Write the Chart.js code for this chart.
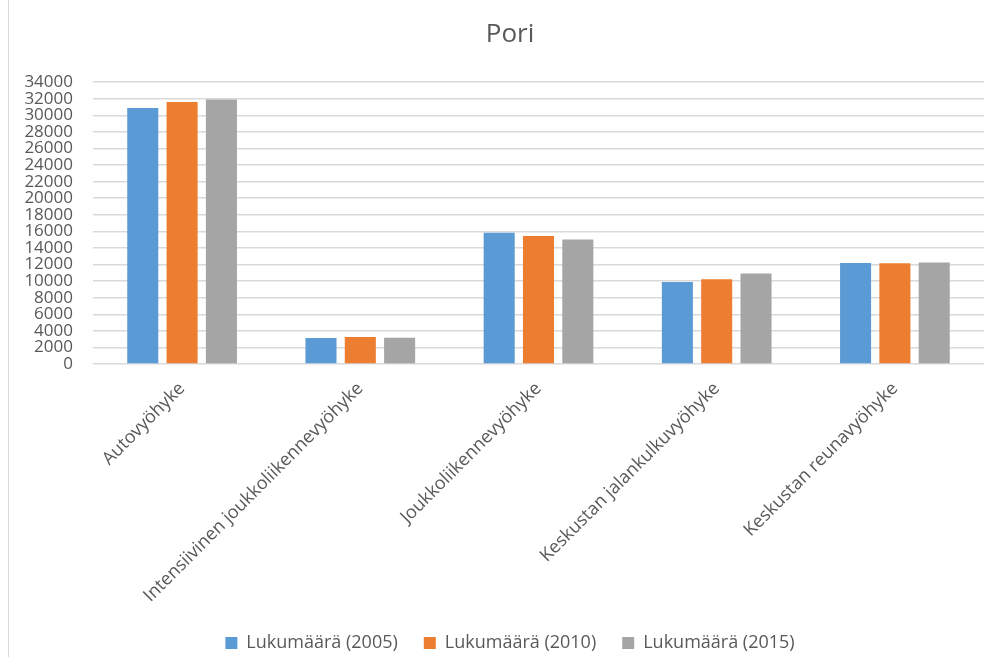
<!DOCTYPE html>
<html>
<head>
<meta charset="utf-8">
<script src="https://cdn.jsdelivr.net/npm/chart.js@4.4.1/dist/chart.umd.min.js"></script>
<style>
  html, body { margin: 0; padding: 0; background: #ffffff; overflow: hidden; }
  #wrap { position: relative; width: 994px; height: 657px; overflow: hidden; }
  #frame { position: absolute; left: 8px; top: 0; height: 100%; border-left: 1px solid #d9d9d9; }
  canvas { position: absolute; left: 0; top: 0; }
</style>
</head>
<body>
<div id="wrap">
  <canvas id="c" width="1020" height="662"></canvas>
  <div id="frame"></div>
</div>
<script>
const categories = [
  "Autovyöhyke",
  "Intensiivinen joukkoliikennevyöhyke",
  "Joukkoliikennevyöhyke",
  "Keskustan jalankulkuvyöhyke",
  "Keskustan reunavyöhyke"
];
const seriesNames = ["Lukumäärä (2005)", "Lukumäärä (2010)", "Lukumäärä (2015)"];
const values2005 = [30900, 3150, 15850, 9880, 12200];
const values2010 = [31600, 3250, 15430, 10240, 12160];
const values2015 = [31900, 3180, 15030, 10930, 12240];
const yMin = 0, yMax = 34000, yStep = 2000;

const colors = ["#5b9bd5", "#ed7d31", "#a5a5a5"];
const textColor = "#595959";
const FONT = "'Open Sans', 'Noto Sans', sans-serif";

new Chart(document.getElementById("c"), {
  type: "bar",
  data: {
    labels: categories,
    datasets: [values2005, values2010, values2015].map((v, i) => ({
      label: seriesNames[i],
      data: v,
      backgroundColor: colors[i],
      borderWidth: 0,
      categoryPercentage: 0.662,
      barPercentage: 0.79
    }))
  },
  options: {
    responsive: false,
    animation: false,
    devicePixelRatio: 1,
    layout: { padding: { left: 0, right: 0, top: 0, bottom: 0 } },
    plugins: {
      title: {
        display: true,
        text: "Pori",
        color: textColor,
        font: { family: FONT, size: 26, weight: "normal" },
        padding: { top: 19, bottom: 32 }
      },
      legend: {
        display: true,
        position: "bottom",
        labels: {
          color: textColor,
          font: { family: FONT, size: 18 },
          boxWidth: 12,
          boxHeight: 12,
          padding: 26
        }
      },
      tooltip: { enabled: false }
    },
    scales: {
      x: {
        grid: { display: false, drawTicks: false },
        border: { display: false },
        ticks: {
          color: textColor,
          font: { family: FONT, size: 18 },
          minRotation: 45,
          maxRotation: 45,
          autoSkip: false,
          padding: 14
        },
        afterFit(scale) { scale.height = 244; }
      },
      y: {
        position: "left",
        min: yMin,
        max: yMax,
        grid: { color: "#d9d9d9", lineWidth: 1.5, drawTicks: false },
        border: { display: false },
        ticks: {
          stepSize: yStep,
          autoSkip: false,
          color: textColor,
          font: { family: FONT, size: 17 },
          padding: 20,
          callback: (v) => String(v)
        },
        afterFit(scale) { scale.width = 93; }
      },
      yRight: {
        position: "right",
        display: true,
        min: yMin,
        max: yMax,
        grid: { display: false, drawTicks: false },
        border: { display: false },
        ticks: { display: false },
        afterFit(scale) { scale.width = 36; }
      }
    }
  }
});
</script>
</body>
</html>
